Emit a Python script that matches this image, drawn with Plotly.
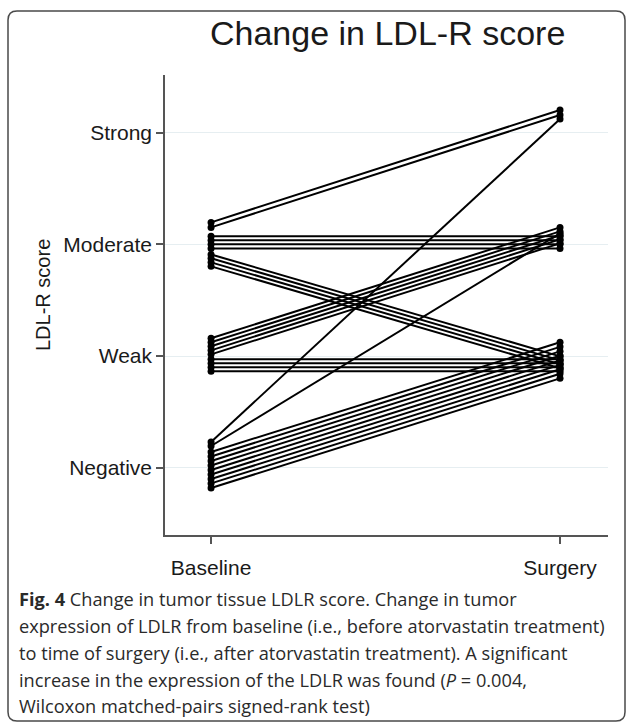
import plotly.graph_objects as go

# ---- data ----
score_labels = ["Negative", "Weak", "Moderate", "Strong"]
score_values = [1, 2, 3, 4]
time_labels = ["Baseline", "Surgery"]
time_values = [0, 1]

# jittered LDL-R score per patient (1=Negative ... 4=Strong)
baseline_score = [3.197, 3.152, 3.072, 3.036, 3.000, 2.964, 2.910, 2.875, 2.839, 2.803,
                  2.159, 2.123, 2.087, 2.051, 2.015, 1.970, 1.935, 1.899, 1.863,
                  1.230, 1.194, 1.141, 1.100, 1.060, 1.020, 0.979, 0.939, 0.899, 0.859, 0.818]
surgery_score = [4.203, 4.159, 3.072, 3.036, 3.000, 2.964, 1.997, 1.961, 1.926, 1.890,
                 3.152, 3.116, 3.081, 3.045, 3.009, 1.970, 1.935, 1.899, 1.863,
                 4.123, 3.099, 2.123, 2.082, 2.042, 2.002, 1.961, 1.921, 1.881, 1.841, 1.800]

caption_lines = [
    "<b>Fig. 4</b> Change in tumor tissue LDLR score. Change in tumor",
    "expression of LDLR from baseline (i.e., before atorvastatin treatment)",
    "to time of surgery (i.e., after atorvastatin treatment). A significant",
    "increase in the expression of the LDLR was found (<i>P</i> = 0.004,",
    "Wilcoxon matched-pairs signed-rank test)",
]

W, H = 627, 724
ML, MR, MT, MB = 165, 19, 75, 189
PW, PH = W - ML - MR, H - MT - MB


def px(xp):
    return (xp - ML) / PW


def py(yp):
    return (H - MB - yp) / PH


xs, ys = [], []
for b, s in zip(baseline_score, surgery_score):
    xs += [time_values[0], time_values[1], None]
    ys += [b, s, None]

fig = go.Figure()
fig.add_trace(go.Scatter(
    x=xs, y=ys, mode="lines+markers",
    line=dict(color="black", width=2),
    marker=dict(color="black", size=7),
    showlegend=False, hoverinfo="skip",
))

axis_col = "#555555"
fig.update_layout(
    width=W, height=H,
    margin=dict(l=ML, r=MR, t=MT, b=MB),
    paper_bgcolor="white", plot_bgcolor="white",
    font=dict(family="Liberation Sans, Arial, sans-serif", color="#1a1a1a"),
    xaxis=dict(
        range=[-0.132, 1.1375], tickvals=time_values, ticktext=time_labels,
        showgrid=False, zeroline=False, showline=True, linecolor=axis_col, linewidth=1.5,
        ticks="outside", ticklen=7, tickcolor=axis_col, tickwidth=1.5,
        ticklabelstandoff=6,
        tickfont=dict(size=21, color="#1a1a1a"),
    ),
    yaxis=dict(
        range=[0.397, 4.517], tickvals=score_values, ticktext=score_labels,
        showgrid=True, gridcolor="#e6eef1", gridwidth=1.2, zeroline=False,
        showline=True, linecolor=axis_col, linewidth=1.5,
        ticks="outside", ticklen=7, tickcolor=axis_col, tickwidth=1.5,
        tickfont=dict(size=21, color="#1a1a1a"),
    ),
)

# title
fig.add_annotation(text="Change in LDL-R score", xref="paper", yref="paper",
                   x=px(387), y=py(33), xanchor="center", yanchor="middle",
                   showarrow=False, font=dict(size=34, color="#1a1a1a"))
# y-axis title
fig.add_annotation(text="LDL-R score", xref="paper", yref="paper",
                   x=px(43), y=py(295), xanchor="center", yanchor="middle",
                   textangle=-90, showarrow=False, font=dict(size=20, color="#1a1a1a"))

# caption
cap_y = [599, 626, 653, 680, 706]
for t, yy in zip(caption_lines, cap_y):
    fig.add_annotation(text=t, xref="paper", yref="paper", x=px(17), y=py(yy),
                       xanchor="left", yanchor="middle", showarrow=False, align="left",
                       font=dict(family="Open Sans, sans-serif", size=18.2, color="#2a2a2a"))

# rounded frame
x0, x1, y0, y1 = px(8), px(625), py(11), py(721)
rx, ry = 9 / PW, 9 / PH
path = (f"M {x0+rx},{y0} L {x1-rx},{y0} Q {x1},{y0} {x1},{y0-ry} "
        f"L {x1},{y1+ry} Q {x1},{y1} {x1-rx},{y1} L {x0+rx},{y1} Q {x0},{y1} {x0},{y1+ry} "
        f"L {x0},{y0-ry} Q {x0},{y0} {x0+rx},{y0} Z")
fig.add_shape(type="path", path=path, xref="paper", yref="paper",
              line=dict(color="#4a4a4a", width=1.5), fillcolor="rgba(0,0,0,0)")

fig.write_html("out.html", config={"displayModeBar": False},
               post_script="document.body.style.margin='0';document.body.style.overflow='hidden';")
